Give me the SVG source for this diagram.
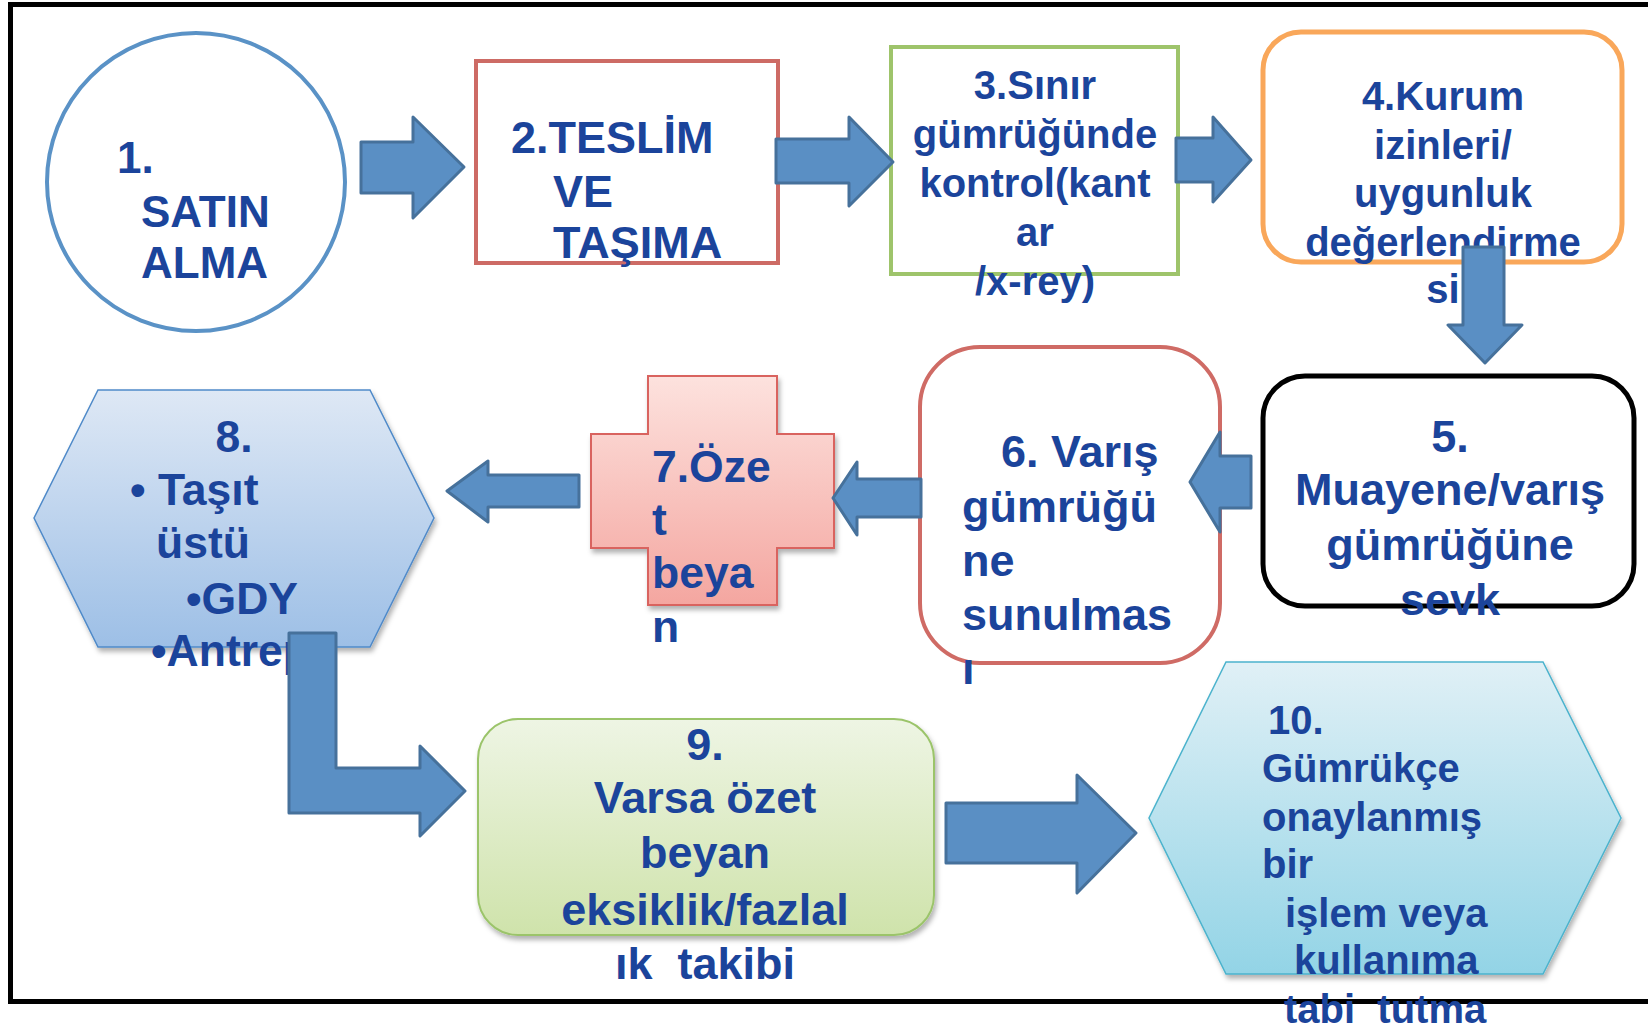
<svg xmlns="http://www.w3.org/2000/svg" width="1648" height="1029" viewBox="0 0 1648 1029">
<defs>
<style>
.t{font-family:"Liberation Sans",Arial,sans-serif;font-weight:bold;fill:#1B449B;white-space:pre}
.s40{font-size:40px}
.s44{font-size:44.5px}
.s45{font-size:45px}
.arr{fill:#5A8FC4;stroke:#46719B;stroke-width:3;stroke-linejoin:round}
</style>
<linearGradient id="gBlue" x1="0" y1="0" x2="0" y2="1"><stop offset="0" stop-color="#DEE8F5"/><stop offset="1" stop-color="#9DBFE6"/></linearGradient>
<linearGradient id="gPink" x1="0" y1="0" x2="0" y2="1"><stop offset="0" stop-color="#FDE2DE"/><stop offset="1" stop-color="#F4A6A0"/></linearGradient>
<linearGradient id="gGreen" x1="0" y1="0" x2="0" y2="1"><stop offset="0" stop-color="#EEF5E4"/><stop offset="1" stop-color="#CFE3AB"/></linearGradient>
<linearGradient id="gCyan" x1="0" y1="0" x2="0" y2="1"><stop offset="0" stop-color="#E0F0F6"/><stop offset="1" stop-color="#93D4E6"/></linearGradient>
<filter id="sh" x="-10%" y="-10%" width="125%" height="125%"><feDropShadow dx="2" dy="4" stdDeviation="2.5" flood-color="#000" flood-opacity="0.3"/></filter>
</defs>
<rect width="1648" height="1029" fill="#fff"/>
<path d="M1660,4.5 H10.5 V1001.5 H1660" fill="none" stroke="#000" stroke-width="5"/>

<g id="n1">
<circle cx="196" cy="182" r="149" fill="#fff" stroke="#5A92C6" stroke-width="4"/>
<text class="t" style="font-size:44px"><tspan x="117" y="173">1.</tspan><tspan x="141" y="227">SATIN</tspan><tspan x="141" y="278">ALMA</tspan></text>
</g>
<g id="n2">
<rect x="476" y="61" width="302" height="202" fill="#fff" stroke="#CD6B65" stroke-width="4"/>
<text class="t s45"><tspan x="511" y="153">2.TESLİM</tspan><tspan x="553" y="207">VE</tspan><tspan x="553" y="258">TAŞIMA</tspan></text>
</g>
<g id="n3">
<rect x="891" y="47" width="287" height="227" fill="#fff" stroke="#9EC46B" stroke-width="4"/>
<text class="t s40" text-anchor="middle"><tspan x="1035" y="99">3.Sınır</tspan><tspan x="1035" y="148">gümrüğünde</tspan><tspan x="1035" y="197">kontrol(kant</tspan><tspan x="1035" y="246">ar</tspan><tspan x="1035" y="295">/x-rey)</tspan></text>
</g>
<g id="n4">
<rect x="1263" y="32" width="359" height="230" rx="38" fill="#fff" stroke="#F9A75A" stroke-width="5"/>
<text class="t s40" text-anchor="middle"><tspan x="1443" y="110">4.Kurum</tspan><tspan x="1443" y="159">izinleri/</tspan><tspan x="1443" y="207">uygunluk</tspan><tspan x="1443" y="256">değerlendirme</tspan><tspan x="1443" y="303">si</tspan></text>
</g>
<g id="n5">
<rect x="1263" y="376" width="371" height="230" rx="42" fill="#fff" stroke="#000" stroke-width="5"/>
<text class="t s45" text-anchor="middle"><tspan x="1450" y="452">5.</tspan><tspan x="1450" y="505">Muayene/varış</tspan><tspan x="1450" y="560">gümrüğüne</tspan><tspan x="1450" y="615">sevk</tspan></text>
</g>
<g id="n6">
<rect x="920" y="347" width="300" height="316" rx="60" fill="#fff" stroke="#CF6B65" stroke-width="4"/>
<text class="t s45"><tspan x="1001" y="467">6. Varış</tspan><tspan x="962" y="522">gümrüğü</tspan><tspan x="962" y="576">ne</tspan><tspan x="962" y="630">sunulmas</tspan><tspan x="962" y="684">ı</tspan></text>
</g>
<g id="n7">
<path d="M648,376 H777 V434 H834 V548 H777 V605 H648 V548 H591 V434 H648 Z" fill="url(#gPink)" stroke="#D9645E" stroke-width="2" filter="url(#sh)"/>
<text class="t s44"><tspan x="652" y="482">7.Öze</tspan><tspan x="652" y="535">t</tspan><tspan x="652" y="588">beya</tspan><tspan x="652" y="642">n</tspan></text>
</g>
<g id="n8">
<path d="M98,390 H370 L434,518 L370,647 H98 L34,518 Z" fill="url(#gBlue)" stroke="#4F8AC9" stroke-width="1.5" filter="url(#sh)"/>
<text class="t s44"><tspan x="234" y="452" text-anchor="middle">8.</tspan><tspan x="130" y="505">• Taşıt</tspan><tspan x="156" y="558">üstü</tspan><tspan x="186" y="614">•GDY</tspan><tspan x="151" y="666">•Antrep</tspan></text>
</g>
<g id="n9">
<rect x="478" y="719" width="456" height="216" rx="40" fill="url(#gGreen)" stroke="#9BC46A" stroke-width="2" filter="url(#sh)"/>
<text class="t s45" text-anchor="middle"><tspan x="705" y="760">9.</tspan><tspan x="705" y="813">Varsa özet</tspan><tspan x="705" y="868">beyan</tspan><tspan x="705" y="925">eksiklik/fazlal</tspan><tspan x="705" y="979">ık  takibi</tspan></text>
</g>
<g id="n10">
<path d="M1226,662 H1543 L1621,818 L1543,974 H1226 L1149,818 Z" fill="url(#gCyan)" stroke="#4BB3CD" stroke-width="1.5" filter="url(#sh)"/>
<text class="t s40"><tspan x="1268" y="734">10.</tspan><tspan x="1262" y="782">Gümrükçe</tspan><tspan x="1262" y="831">onaylanmış</tspan><tspan x="1262" y="878">bir</tspan><tspan x="1285" y="927">işlem veya</tspan><tspan x="1294" y="974">kullanıma</tspan><tspan x="1284" y="1023">tabi  tutma</tspan></text>
</g>

<g id="connectors">
<path class="arr" d="M361,142 H413 V117 L464,167 L413,218 V193 H361 Z"/>
<path class="arr" d="M776,139 H849 V117 L893,162 L849,206 V183 H776 Z"/>
<path class="arr" d="M1176,138 H1213 V117 L1251,160 L1213,202 V182 H1176 Z"/>
<path class="arr" d="M1463,247 H1504 V325 H1522 L1485,363 L1448,325 H1463 Z"/>
<path class="arr" d="M1251,456 V508 H1220 V532 L1190,482 L1220,432 V456 Z"/>
<path class="arr" d="M921,479 V517 H857 V535 L833,498 L857,462 V479 Z"/>
<path class="arr" d="M579,475 V507 H488 V522 L447,491 L488,461 V475 Z"/>
<path class="arr" d="M289,633 H336 V768 H420 V746 L465,791 L420,836 V813 H289 Z"/>
<path class="arr" d="M946,803 H1077 V775 L1136,833 L1077,893 V863 H946 Z"/>
</g>
</svg>
